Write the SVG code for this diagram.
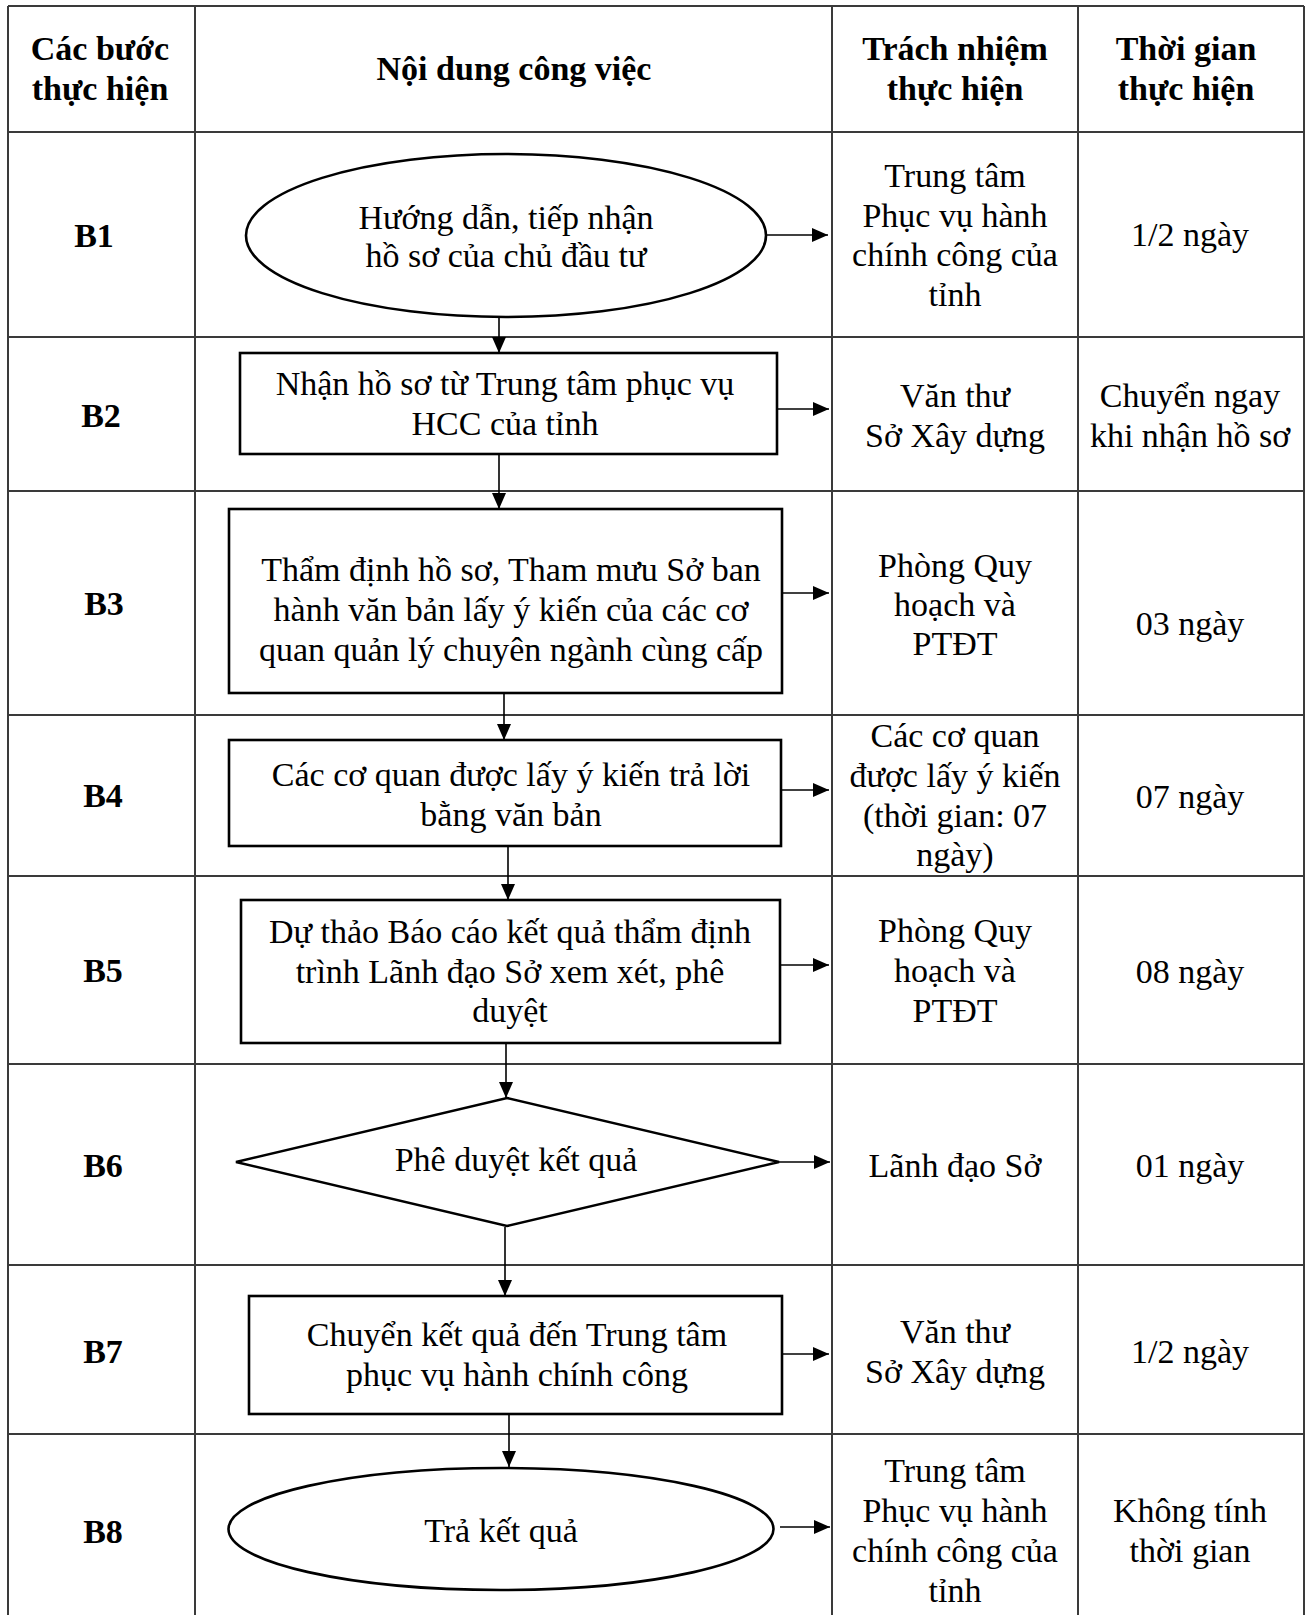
<svg xmlns="http://www.w3.org/2000/svg" width="1311" height="1615" viewBox="0 0 1311 1615">
<style>
  .grid { stroke: #3a3a3a; stroke-width: 2; fill: none; }
  .shape { stroke: #000; stroke-width: 2.6; fill: #fff; }
  .conn { stroke: #000; stroke-width: 1.6; fill: none; marker-end: url(#arrow); }
  text { font-family: "Liberation Serif", "Times New Roman", serif; font-size: 34px; fill: #000; text-anchor: middle; }
  .b { font-weight: bold; }
</style>
<defs>
  <marker id="arrow" markerUnits="userSpaceOnUse" markerWidth="16" markerHeight="14" refX="16" refY="7" orient="auto">
    <path d="M0,0 L16,7 L0,14 Z" fill="#000"/>
  </marker>
</defs>
<rect width="1311" height="1615" fill="#fff"/>

<g id="table">
  <path class="grid" d="M8,6 H1304 M8,6 V1615 M1304,6 V1615 M195,6 V1615 M832,6 V1615 M1078,6 V1615
    M8,132 H1304 M8,337 H1304 M8,491 H1304 M8,715 H1304 M8,876 H1304 M8,1064 H1304 M8,1265 H1304 M8,1434 H1304"/>
</g>

<g id="header">
  <text class="b" x="100" y="60">Các bước</text>
  <text class="b" x="100" y="100">thực hiện</text>
  <text class="b" x="514" y="80">Nội dung công việc</text>
  <text class="b" x="955" y="60">Trách nhiệm</text>
  <text class="b" x="955" y="100">thực hiện</text>
  <text class="b" x="1186" y="60">Thời gian</text>
  <text class="b" x="1186" y="100">thực hiện</text>
</g>

<g id="steps">
  <text class="b" x="94" y="247">B1</text>
  <text class="b" x="101" y="427">B2</text>
  <text class="b" x="104" y="615">B3</text>
  <text class="b" x="103" y="807">B4</text>
  <text class="b" x="103" y="982">B5</text>
  <text class="b" x="103" y="1177">B6</text>
  <text class="b" x="103" y="1363">B7</text>
  <text class="b" x="103" y="1543">B8</text>
</g>

<g id="connectors">
  <line class="conn" x1="499" y1="317" x2="499" y2="353"/>
  <line class="conn" x1="499" y1="454" x2="499" y2="509"/>
  <line class="conn" x1="504" y1="693" x2="504" y2="740"/>
  <line class="conn" x1="508" y1="846" x2="508" y2="900"/>
  <line class="conn" x1="506" y1="1043" x2="506" y2="1098"/>
  <line class="conn" x1="505" y1="1227" x2="505" y2="1296"/>
  <line class="conn" x1="509" y1="1414" x2="509" y2="1467"/>
  <line class="conn" x1="766" y1="235" x2="828" y2="235"/>
  <line class="conn" x1="777" y1="409" x2="829" y2="409"/>
  <line class="conn" x1="782" y1="593" x2="829" y2="593"/>
  <line class="conn" x1="781" y1="790" x2="829" y2="790"/>
  <line class="conn" x1="780" y1="965" x2="829" y2="965"/>
  <line class="conn" x1="779" y1="1162" x2="830" y2="1162"/>
  <line class="conn" x1="782" y1="1354" x2="829" y2="1354"/>
  <line class="conn" x1="780" y1="1527" x2="830" y2="1527"/>
</g>

<g id="n1">
  <ellipse class="shape" cx="506" cy="235.5" rx="260" ry="81.5"/>
  <text x="506" y="229">Hướng dẫn, tiếp nhận</text>
  <text x="506" y="267">hồ sơ của chủ đầu tư</text>
</g>
<g id="n2">
  <rect class="shape" x="240" y="353" width="537" height="101"/>
  <text x="505" y="395">Nhận hồ sơ từ Trung tâm phục vụ</text>
  <text x="505" y="435">HCC của tỉnh</text>
</g>
<g id="n3">
  <rect class="shape" x="229" y="509" width="553" height="184"/>
  <text x="511" y="581">Thẩm định hồ sơ, Tham mưu Sở ban</text>
  <text x="511" y="621">hành văn bản lấy ý kiến của các cơ</text>
  <text x="511" y="661">quan quản lý chuyên ngành cùng cấp</text>
</g>
<g id="n4">
  <rect class="shape" x="229" y="740" width="552" height="106"/>
  <text x="511" y="786">Các cơ quan được lấy ý kiến trả lời</text>
  <text x="511" y="826">bằng văn bản</text>
</g>
<g id="n5">
  <rect class="shape" x="241" y="900" width="539" height="143"/>
  <text x="510" y="943">Dự thảo Báo cáo kết quả thẩm định</text>
  <text x="510" y="983">trình Lãnh đạo Sở xem xét, phê</text>
  <text x="510" y="1022">duyệt</text>
</g>
<g id="n6">
  <polygon class="shape" points="507,1098 779,1162 507,1226 236,1162"/>
  <text x="516" y="1171">Phê duyệt kết quả</text>
</g>
<g id="n7">
  <rect class="shape" x="249" y="1296" width="533" height="118"/>
  <text x="517" y="1346">Chuyển kết quả đến Trung tâm</text>
  <text x="517" y="1386">phục vụ hành chính công</text>
</g>
<g id="n8">
  <ellipse class="shape" cx="501" cy="1529" rx="272.5" ry="61"/>
  <text x="501" y="1542">Trả kết quả</text>
</g>

<g id="responsible">
  <text x="955" y="187">Trung tâm</text>
  <text x="955" y="227">Phục vụ hành</text>
  <text x="955" y="266">chính công của</text>
  <text x="955" y="306">tỉnh</text>
  <text x="955" y="407">Văn thư</text>
  <text x="955" y="447">Sở Xây dựng</text>
  <text x="955" y="577">Phòng Quy</text>
  <text x="955" y="616">hoạch và</text>
  <text x="955" y="655">PTĐT</text>
  <text x="955" y="747">Các cơ quan</text>
  <text x="955" y="787">được lấy ý kiến</text>
  <text x="955" y="827">(thời gian: 07</text>
  <text x="955" y="866">ngày)</text>
  <text x="955" y="942">Phòng Quy</text>
  <text x="955" y="982">hoạch và</text>
  <text x="955" y="1022">PTĐT</text>
  <text x="955" y="1177">Lãnh đạo Sở</text>
  <text x="955" y="1343">Văn thư</text>
  <text x="955" y="1383">Sở Xây dựng</text>
  <text x="955" y="1482">Trung tâm</text>
  <text x="955" y="1522">Phục vụ hành</text>
  <text x="955" y="1562">chính công của</text>
  <text x="955" y="1602">tỉnh</text>
</g>

<g id="time">
  <text x="1190" y="246">1/2 ngày</text>
  <text x="1190" y="407">Chuyển ngay</text>
  <text x="1190" y="447">khi nhận hồ sơ</text>
  <text x="1190" y="635">03 ngày</text>
  <text x="1190" y="808">07 ngày</text>
  <text x="1190" y="983">08 ngày</text>
  <text x="1190" y="1177">01 ngày</text>
  <text x="1190" y="1363">1/2 ngày</text>
  <text x="1190" y="1522">Không tính</text>
  <text x="1190" y="1562">thời gian</text>
</g>
</svg>
